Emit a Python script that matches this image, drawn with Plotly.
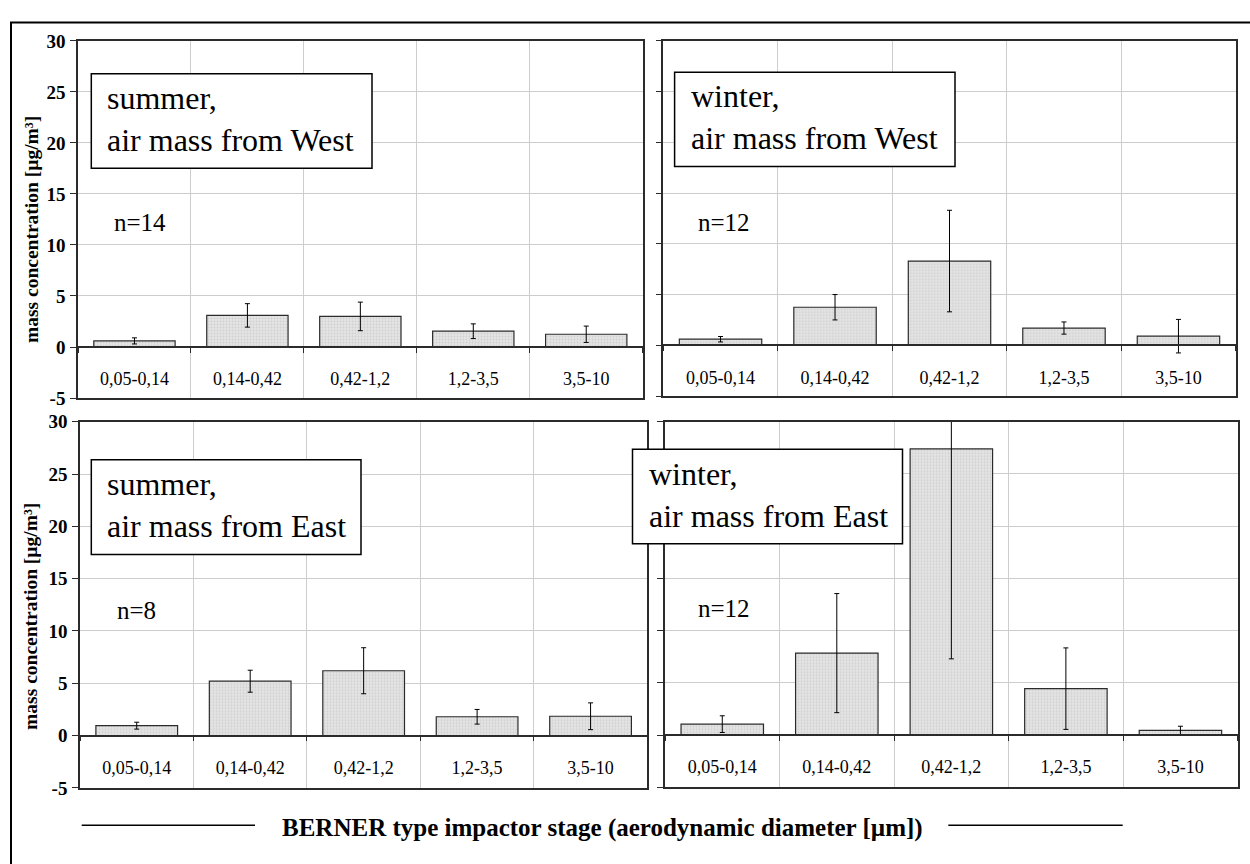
import plotly.graph_objects as go

W, H = 1250, 864
FONT = "Liberation Serif, Times New Roman, serif"

# impactor stages (aerodynamic diameter ranges, µm)
stages = ["0,05-0,14", "0,14-0,42", "0,42-1,2", "1,2-3,5", "3,5-10"]

# mean mass concentration and standard deviation per stage [µg/m³]
summer_west_mean = [0.6, 3.1, 3.0, 1.55, 1.25]
summer_west_sd = [0.3, 1.15, 1.4, 0.72, 0.8]
winter_west_mean = [0.6, 3.75, 8.3, 1.7, 0.9]
winter_west_sd = [0.27, 1.25, 5.0, 0.6, 1.65]
summer_east_mean = [0.95, 5.2, 6.2, 1.8, 1.85]
summer_east_sd = [0.33, 1.05, 2.2, 0.7, 1.28]
winter_east_mean = [1.05, 7.85, 27.4, 4.45, 0.45]
winter_east_sd = [0.8, 5.7, 20.1, 3.9, 0.4]

panel_titles = [
    "summer,<br>air mass from West",
    "winter,<br>air mass from West",
    "summer,<br>air mass from East",
    "winter,<br>air mass from East",
]
sample_counts = [14, 12, 8, 12]
y_range = [-5, 30]
y_ticks = [-5, 0, 5, 10, 15, 20, 25, 30]
y_title = "mass concentration [µg/m³]"
x_title = "BERNER type impactor stage (aerodynamic diameter [µm])"

# pixel geometry: plot area (left, top, right, bottom), label box, n-label, y-title centre
panels = [
    dict(mean=summer_west_mean, sd=summer_west_sd, plot=(78, 31.7, 642.7, 397.7),
         box=(91.3, 65.3, 372, 162.3), n_at=(111.5, 218), ytitle_y=225.5, labels=True),
    dict(mean=winter_west_mean, sd=winter_west_sd, plot=(663.3, 31.5, 1235.7, 395.7),
         box=(674.6, 63.7, 955, 160.3), n_at=(696.3, 218), ytitle_y=None, labels=False),
    dict(mean=summer_east_mean, sd=summer_east_sd, plot=(80, 422, 647.3, 797.3),
         box=(91.3, 461, 361, 558), n_at=(114.5, 615), ytitle_y=622, labels=True),
    dict(mean=winter_east_mean, sd=winter_east_sd, plot=(665, 422, 1237.7, 796.7),
         box=(632.5, 450.3, 902.5, 547), n_at=(696.3, 613), ytitle_y=None, labels=False),
]

LINE = "#2b2b2b"
GRID = "#cdcdcd"


def px_x(v):
    return v / W


def px_y(v):
    return 1 - v / H


fig = go.Figure()
shapes = []
annotations = []
layout = {}

for i, p in enumerate(panels):
    n = i + 1
    sfx = "" if n == 1 else str(n)
    ov = n + 4
    left, top, right, bottom = p["plot"]
    xdom = [px_x(left), px_x(right)]
    ydom = [px_y(bottom), px_y(top)]
    # paper position of the zero line, from the y scale
    zero_pos = ydom[0] + (ydom[1] - ydom[0]) * (0 - y_range[0]) / (y_range[1] - y_range[0])

    fig.add_trace(go.Bar(
        x=stages, y=p["mean"],
        error_y=dict(type="data", array=p["sd"], visible=True, color="black",
                     thickness=1, width=2.5),
        marker=dict(color="#dedede", line=dict(color=LINE, width=1.2),
                    pattern=dict(shape=".", fgcolor="#b9b9b9", bgcolor="#e4e4e4",
                                 size=3, solidity=0.3)),
        xaxis=f"x{sfx}", yaxis=f"y{sfx}", showlegend=False, hoverinfo="skip",
    ))
    # carries the category axis drawn along the zero line
    fig.add_trace(go.Scatter(
        x=stages, y=p["mean"], mode="markers", marker=dict(opacity=0),
        xaxis=f"x{ov}", yaxis=f"y{sfx}", showlegend=False, hoverinfo="skip",
    ))

    layout[f"xaxis{sfx}"] = dict(
        domain=xdom, anchor=f"y{sfx}", type="category", range=[-0.5, 4.5],
        categoryorder="array", categoryarray=stages, tickson="boundaries",
        showgrid=True, gridcolor=GRID, gridwidth=1, ticks="", showticklabels=False,
        showline=True, mirror=True, linecolor=LINE, linewidth=1.5, fixedrange=True,
    )
    layout[f"xaxis{ov}"] = dict(
        overlaying=f"x{sfx}", anchor="free", position=zero_pos, side="bottom",
        type="category", range=[-0.5, 4.5], categoryorder="array", categoryarray=stages,
        tickson="boundaries", ticks="outside", ticklen=5, tickcolor=LINE, tickwidth=1,
        showline=True, linecolor=LINE, linewidth=1.5, showgrid=False,
        tickfont=dict(family=FONT, size=18, color="black"), ticklabelstandoff=16,
        fixedrange=True,
    )
    layout[f"yaxis{sfx}"] = dict(
        domain=ydom, anchor=f"x{sfx}", range=y_range,
        tickmode="array", tickvals=y_ticks, ticktext=[str(v) for v in y_ticks],
        ticks="outside", ticklen=6, tickcolor=LINE, tickwidth=1,
        showline=True, mirror=True, linecolor=LINE, linewidth=1.5,
        showgrid=True, gridcolor=GRID, gridwidth=1, zeroline=False,
        showticklabels=p["labels"], ticklabelstandoff=1,
        tickfont=dict(family=FONT, size=19, color="black", weight="bold"),
        fixedrange=True,
    )

    # label box
    bx0, by0, bx1, by1 = p["box"]
    shapes.append(dict(type="rect", xref="paper", yref="paper",
                       x0=px_x(bx0), x1=px_x(bx1), y0=px_y(by1), y1=px_y(by0),
                       fillcolor="white", line=dict(color="black", width=1.5), layer="above"))
    annotations.append(dict(text=panel_titles[i], xref="paper", yref="paper",
                            x=px_x(bx0 + 14), y=px_y((by0 + by1) / 2 - 2),
                            xanchor="left", yanchor="middle", align="left", showarrow=False,
                            font=dict(family=FONT, size=32, color="black")))
    annotations.append(dict(text=f"n={sample_counts[i]}", xref="paper", yref="paper",
                            x=px_x(p["n_at"][0]), y=px_y(p["n_at"][1]),
                            xanchor="left", yanchor="middle", showarrow=False,
                            font=dict(family=FONT, size=25, color="black")))
    if p["ytitle_y"] is not None:
        annotations.append(dict(text=y_title, xref="paper", yref="paper",
                                x=px_x(31), y=px_y(p["ytitle_y"]), textangle=-90,
                                xanchor="center", yanchor="middle", showarrow=False,
                                font=dict(family=FONT, size=19.5, color="black", weight="bold")))

# common x title with its side rules
annotations.append(dict(text=x_title, xref="paper", yref="paper",
                        x=px_x(602), y=px_y(838), xanchor="center", yanchor="middle",
                        showarrow=False,
                        font=dict(family=FONT, size=25, color="black", weight="bold")))
for x0, x1 in [(81.7, 255), (948.3, 1122.7)]:
    shapes.append(dict(type="line", xref="paper", yref="paper",
                       x0=px_x(x0), x1=px_x(x1), y0=px_y(835.5), y1=px_y(835.5),
                       line=dict(color="black", width=1.5)))

# outer frame
shapes.append(dict(type="rect", xref="paper", yref="paper",
                   x0=px_x(11), x1=1.05, y0=-0.05, y1=px_y(12.7),
                   line=dict(color="black", width=2), fillcolor="rgba(0,0,0,0)"))

fig.update_layout(
    width=W, height=H, autosize=False,
    margin=dict(l=0, r=0, t=0, b=0),
    paper_bgcolor="white", plot_bgcolor="white",
    bargap=0.28, showlegend=False,
    font=dict(family=FONT, color="black"),
    shapes=shapes, annotations=annotations,
    **layout,
)

fig.write_html("out.html", config={"displayModeBar": False})
